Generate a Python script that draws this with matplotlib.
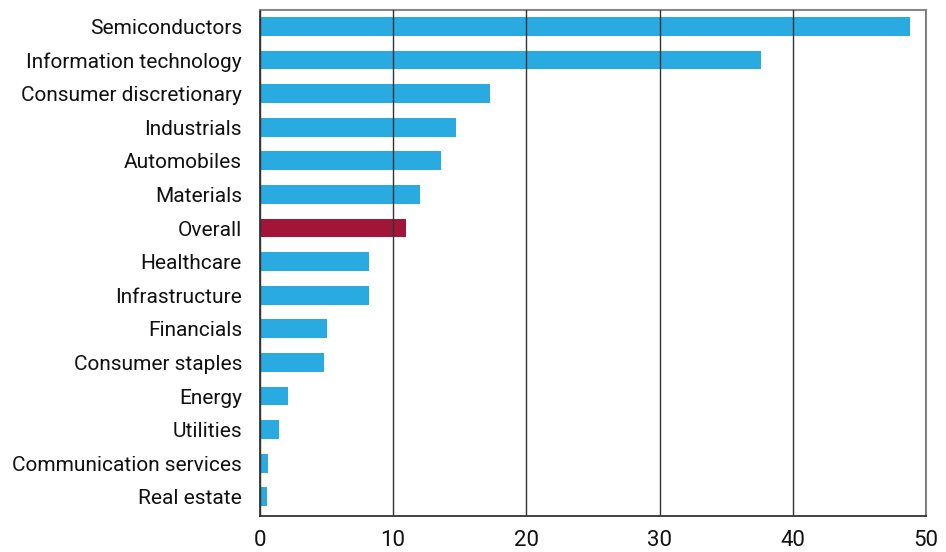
import matplotlib
matplotlib.use('Agg')
import matplotlib.pyplot as plt

sectors = ['Semiconductors', 'Information technology', 'Consumer discretionary',
           'Industrials', 'Automobiles', 'Materials', 'Overall', 'Healthcare',
           'Infrastructure', 'Financials', 'Consumer staples', 'Energy',
           'Utilities', 'Communication services', 'Real estate']
values = [48.8, 37.6, 17.3, 14.7, 13.6, 12.0, 11.0, 8.2, 8.2, 5.0, 4.8, 2.1, 1.4, 0.6, 0.5]
x_ticks = [0, 10, 20, 30, 40, 50]

BLUE = '#29abe2'
RED = '#a01538'

plt.rcParams['font.family'] = ['Roboto', 'DejaVu Sans']

fig = plt.figure(figsize=(9.46, 5.52), dpi=100)
ax = fig.add_axes([0.2748, 0.0652, 0.7041, 0.9167])

colors = [RED if s == 'Overall' else BLUE for s in sectors]
ax.barh(range(len(sectors)), values, height=0.56, color=colors, zorder=2)

ax.set_xlim(0, 50)
ax.set_ylim(14.57, -0.49)
ax.set_yticks(range(len(sectors)))
ax.set_yticklabels(sectors, fontsize=15, color='#111111')
ax.set_xticks(x_ticks)
ax.set_xticklabels([str(t) for t in x_ticks], fontsize=16, color='#111111')
ax.tick_params(axis='x', length=0, pad=10)
ax.tick_params(axis='y', length=0, pad=13)

ax.grid(axis='x', color='#333333', linewidth=1.0, zorder=3)
ax.set_axisbelow(False)
for side in ['top', 'right']:
    ax.spines[side].set_color('#888888')
    ax.spines[side].set_linewidth(1.5)
for side in ['left', 'bottom']:
    ax.spines[side].set_color('#222222')
    ax.spines[side].set_linewidth(1.2)

fig.savefig('out.png', dpi=100)
